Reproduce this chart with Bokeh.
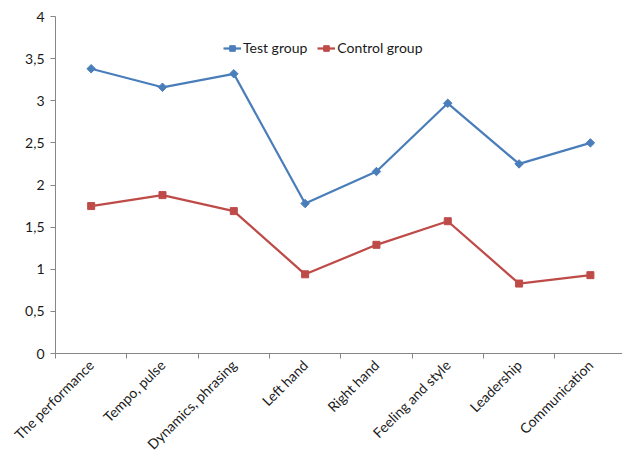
import math
from bokeh.plotting import figure
from bokeh.models import (Range1d, FixedTicker, Legend, LegendItem,
                          ColumnDataSource)
from bokeh.embed import file_html
from bokeh.resources import INLINE

categories = ["The performance", "Tempo, pulse", "Dynamics, phrasing",
              "Left hand", "Right hand", "Feeling and style", "Leadership",
              "Communication"]
test_group = [3.38, 3.16, 3.32, 1.78, 2.16, 2.97, 2.25, 2.50]
control_group = [1.75, 1.88, 1.69, 0.94, 1.29, 1.57, 0.83, 0.93]
y_ticks = [0, 0.5, 1, 1.5, 2, 2.5, 3, 3.5, 4]
y_tick_labels = ["0", "0,5", "1", "1,5", "2", "2,5", "3", "3,5", "4"]

FONT = "Lato"
BLUE = "#4A7EBB"
RED = "#BE4B48"
AXIS = "#868686"

x_pos = [i + 0.5 for i in range(len(categories))]
src = ColumnDataSource(dict(x=x_pos, test=test_group, control=control_group))

p = figure(frame_width=567, frame_height=337, output_backend="svg",
           toolbar_location=None, x_range=Range1d(0, 7.95),
           y_range=Range1d(0, 4), min_border=0, min_border_left=55,
           min_border_top=16, min_border_bottom=105, min_border_right=0)
p.outline_line_color = None
p.xgrid.visible = False
p.ygrid.visible = False
p.background_fill_color = "white"
p.border_fill_color = "white"

# x axis: labels at category centres, ticks at category boundaries
xa = p.xaxis[0]
xa.ticker = FixedTicker(ticks=x_pos, minor_ticks=list(range(len(categories) + 1)))
xa.major_label_overrides = {x: c for x, c in zip(x_pos, categories)}
xa.major_label_orientation = math.pi / 4
xa.major_tick_out = 0
xa.major_tick_in = 0
xa.minor_tick_out = 5
xa.minor_tick_in = 0
xa.minor_tick_line_color = AXIS
xa.axis_line_color = AXIS
xa.major_label_text_font = FONT
xa.major_label_text_font_size = "14px"
xa.major_label_text_color = "#1a1a1a"
xa.major_label_standoff = 4

ya = p.yaxis[0]
ya.ticker = FixedTicker(ticks=y_ticks)
ya.major_label_overrides = {t: l for t, l in zip(y_ticks, y_tick_labels)}
ya.major_tick_out = 5
ya.major_tick_in = 0
ya.minor_tick_out = 0
ya.minor_tick_in = 0
ya.axis_line_color = AXIS
ya.major_tick_line_color = AXIS
ya.major_label_text_font = FONT
ya.major_label_text_font_size = "14px"
ya.major_label_text_color = "#1a1a1a"
ya.major_label_standoff = 6

l1 = p.line("x", "test", source=src, line_color=BLUE, line_width=2.25)
s1 = p.scatter("x", "test", source=src, marker="square", angle=math.pi / 4,
               size=6, fill_color=BLUE, line_color=BLUE)
l2 = p.line("x", "control", source=src, line_color=RED, line_width=2.25)
s2 = p.scatter("x", "control", source=src, marker="square", size=7,
               fill_color=RED, line_color=RED)

legend = Legend(items=[LegendItem(label="Test group", renderers=[l1, s1]),
                       LegendItem(label="Control group", renderers=[l2, s2])],
                orientation="horizontal", location=(168, 297),
                padding=0, margin=0, spacing=10, glyph_width=18,
                glyph_height=14, label_standoff=2, label_height=14,
                border_line_color=None, background_fill_alpha=0,
                label_text_font=FONT, label_text_font_size="14px",
                label_text_color="#1a1a1a")
p.add_layout(legend, "center")

open("out.html", "w").write(file_html(p, INLINE))
